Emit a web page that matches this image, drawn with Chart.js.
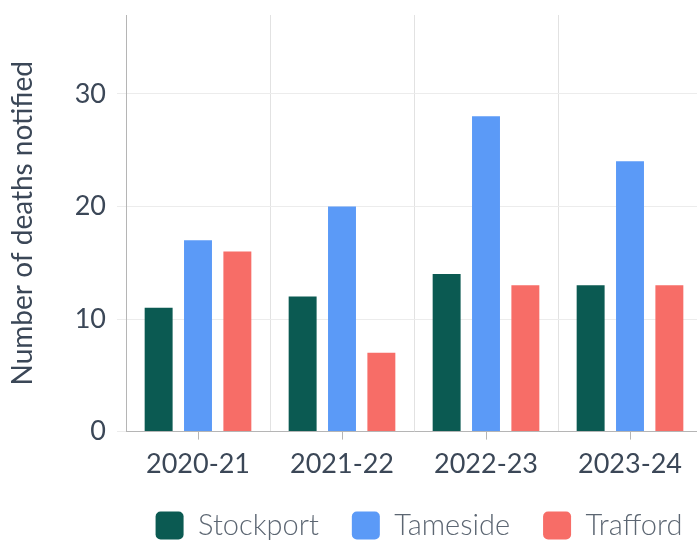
<!DOCTYPE html>
<html>
<head>
<meta charset="utf-8">
<script src="https://cdn.jsdelivr.net/npm/chart.js@4"></script>
<style>
html, body { margin: 0; padding: 0; background: #fff; overflow: hidden; }
#wrap { width: 702px; height: 550px; position: relative; }
</style>
</head>
<body>
<div id="wrap"><canvas id="chart"></canvas></div>
<script>
const years = ['2020-21', '2021-22', '2022-23', '2023-24'];
const stockport = [11, 12, 14, 13];
const tameside = [17, 20, 28, 24];
const trafford = [16, 7, 13, 13];
const yTicks = [0, 10, 20, 30];

const TEXT = '#3b4757';
const FONT = 'Lato, "Open Sans", sans-serif';

// small tick marks under the category centres
const centreTicks = {
  id: 'centreTicks',
  afterDatasetsDraw(chart) {
    const x = chart.scales.x;
    const ctx = chart.ctx;
    ctx.save();
    ctx.strokeStyle = '#b5b5b5';
    ctx.lineWidth = 1;
    years.forEach((_, i) => {
      const px = Math.round(x.getPixelForValue(i)) + 0.5;
      ctx.beginPath();
      ctx.moveTo(px, x.top);
      ctx.lineTo(px, x.top + 8);
      ctx.stroke();
    });
    ctx.restore();
  }
};

// legend is centred under the plot area, not the whole canvas
const legendShift = {
  id: 'legendShift',
  afterLayout(chart) {
    const lg = chart.legend;
    const dx = (chart.chartArea.left + chart.chartArea.right) / 2 - (lg.left + lg.right) / 2 + 5;
    lg.left += dx;
    lg.right += dx;
  }
};

const ctx = document.getElementById('chart');
new Chart(ctx, {
  type: 'bar',
  data: {
    labels: years,
    datasets: [
      { label: 'Stockport', data: stockport, backgroundColor: '#0b5a52' },
      { label: 'Tameside', data: tameside, backgroundColor: '#5b9af7' },
      { label: 'Trafford', data: trafford, backgroundColor: '#f76d67' }
    ]
  },
  options: {
    responsive: true,
    maintainAspectRatio: false,
    animation: false,
    datasets: {
      bar: { categoryPercentage: 0.82, barPercentage: 0.71 }
    },
    layout: { padding: { top: 15, left: 0, right: 0, bottom: 0 } },
    scales: {
      x: {
        grid: { offset: true, color: '#e2e2e2', drawTicks: false },
        border: { color: '#b5b5b5' },
        ticks: { color: TEXT, font: { family: FONT, size: 27 }, padding: 16 },
        afterFit: (axis) => { axis.height -= 18; }
      },
      y: {
        min: 0,
        max: 37,
        afterBuildTicks: (axis) => { axis.ticks = yTicks.map(v => ({ value: v })); },
        afterFit: (axis) => {
          axis.width = 126;
          axis.paddingTop = 0;
          axis.paddingBottom = 0;
        },
        grid: { color: '#ececec', tickLength: 9 },
        border: { color: '#b5b5b5' },
        ticks: { color: TEXT, font: { family: FONT, size: 27 }, padding: 11 },
        title: {
          display: true,
          text: 'Number of deaths notified',
          color: TEXT,
          font: { family: FONT, size: 28 },
          padding: { top: 6, bottom: 0 }
        }
      }
    },
    plugins: {
      legend: {
        position: 'bottom',
        labels: {
          color: '#5c6672',
          font: { family: FONT, size: 29, weight: 300 },
          boxWidth: 28,
          boxHeight: 28,
          useBorderRadius: true,
          borderRadius: 5,
          padding: 33
        }
      },
      tooltip: { enabled: false }
    }
  },
  plugins: [centreTicks, legendShift]
});
</script>
</body>
</html>
